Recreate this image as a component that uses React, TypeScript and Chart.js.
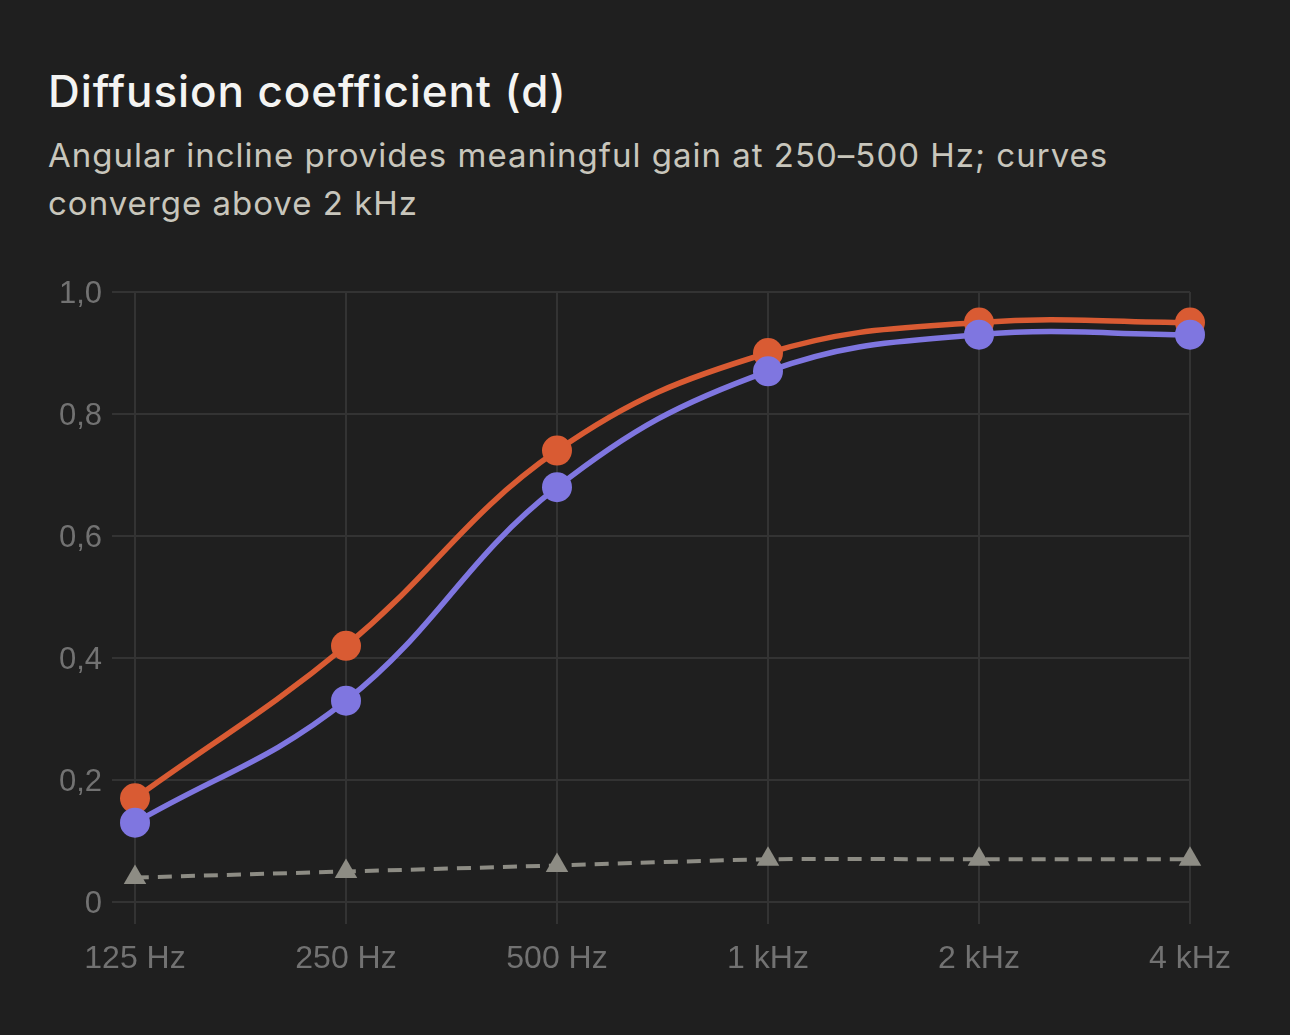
import { useEffect, useRef } from "react";
import { Chart, registerables } from "chart.js";

Chart.register(...registerables);

// Octave-band centre frequencies
const categories = ["125 Hz", "250 Hz", "500 Hz", "1 kHz", "2 kHz", "4 kHz"];

// Diffusion coefficient per band
const angularIncline = [0.17, 0.42, 0.74, 0.9, 0.95, 0.95];
const flatProfile = [0.13, 0.33, 0.68, 0.87, 0.93, 0.93];
const referencePanel = [0.04, 0.05, 0.06, 0.07, 0.07, 0.07];

// Y axis ticks and their printed labels (decimal comma)
const yTickValues = [0, 0.2, 0.4, 0.6, 0.8, 1.0];
const yTickLabels = ["0", "0,2", "0,4", "0,6", "0,8", "1,0"];

const BG = "#1f1f1f";
const GRID = "#333333";
const TICK = "#727272";
const ORANGE = "#d95b33";
const PURPLE = "#7f76e0";
const GREY = "#8d8c84";

export default function App() {
  const canvasRef = useRef<HTMLCanvasElement | null>(null);

  useEffect(() => {
    document.body.style.margin = "0";
    document.body.style.background = BG;
    const canvas = canvasRef.current;
    if (!canvas) return;

    const chart = new Chart(canvas, {
      type: "line",
      data: {
        labels: categories,
        datasets: [
          {
            label: "Flat profile",
            data: flatProfile,
            borderColor: PURPLE,
            backgroundColor: PURPLE,
            borderWidth: 5.5,
            pointRadius: 15,
            pointBorderWidth: 0,
            pointBackgroundColor: PURPLE,
            tension: 0.4,
            order: 1,
          },
          {
            label: "Angular incline",
            data: angularIncline,
            borderColor: ORANGE,
            backgroundColor: ORANGE,
            borderWidth: 5.5,
            pointRadius: 15,
            pointBorderWidth: 0,
            pointBackgroundColor: ORANGE,
            tension: 0.4,
            order: 2,
          },
          {
            label: "Reference panel",
            data: referencePanel,
            borderColor: GREY,
            backgroundColor: GREY,
            borderWidth: 4,
            borderDash: [14, 9],
            pointStyle: "triangle",
            pointRadius: 13,
            pointBorderWidth: 0,
            pointBackgroundColor: GREY,
            tension: 0.2,
            order: 3,
          },
        ],
      },
      options: {
        animation: false,
        responsive: false,
        devicePixelRatio: 1,
        layout: { padding: { top: 52, right: 100, left: 0, bottom: 40 } },
        plugins: {
          legend: { display: false },
          tooltip: { enabled: false },
          title: { display: false },
        },
        scales: {
          x: {
            offset: false,
            grid: {
              color: GRID,
              lineWidth: 2,
              drawTicks: true,
              tickLength: 22,
              tickColor: GRID,
            },
            border: { display: false },
            ticks: {
              color: TICK,
              padding: 16,
              font: { family: "'Liberation Sans', Arial, sans-serif", size: 32 },
              maxRotation: 0,
            },
            afterFit: (scale: any) => {
              scale.height = 93;
            },
          },
          y: {
            min: 0,
            max: 1,
            grid: {
              color: GRID,
              lineWidth: 2,
              drawTicks: true,
              tickLength: 23,
              tickColor: GRID,
            },
            border: { display: false },
            afterBuildTicks: (scale: any) => {
              scale.ticks = yTickValues.map((v) => ({ value: v }));
            },
            ticks: {
              color: TICK,
              padding: 10,
              labelOffset: 2,
              font: { family: "'Liberation Sans', Arial, sans-serif", size: 31 },
              callback: (value: any) => {
                const i = yTickValues.findIndex((v) => Math.abs(v - Number(value)) < 1e-9);
                return i >= 0 ? yTickLabels[i] : "";
              },
            },
            afterFit: (scale: any) => {
              scale.width = 135;
            },
          },
        },
      },
    });

    return () => chart.destroy();
  }, []);

  return (
    <div
      style={{
        position: "fixed",
        left: 0,
        top: 0,
        width: 1290,
        height: 1035,
        background: BG,
        overflow: "hidden",
      }}
    >
      <div
        style={{
          position: "absolute",
          left: 48,
          top: 69,
          fontFamily: "Inter, 'Noto Sans', sans-serif",
          fontSize: 44,
          lineHeight: "44px",
          fontWeight: 500,
          letterSpacing: "0.9px",
          color: "#f4f4f2",
          whiteSpace: "nowrap",
        }}
      >
        Diffusion coefficient (d)
      </div>
      <div
        style={{
          position: "absolute",
          left: 48,
          top: 131,
          width: 1150,
          fontFamily: "Inter, 'Noto Sans', sans-serif",
          fontSize: 33,
          lineHeight: "48px",
          fontWeight: 400,
          letterSpacing: "1px",
          color: "#c8c6bc",
        }}
      >
        Angular incline provides meaningful gain at 250–500 Hz; curves converge above 2 kHz
      </div>
      <canvas
        ref={canvasRef}
        width={1290}
        height={795}
        style={{ position: "absolute", left: 0, top: 240, width: 1290, height: 795 }}
      />
    </div>
  );
}
